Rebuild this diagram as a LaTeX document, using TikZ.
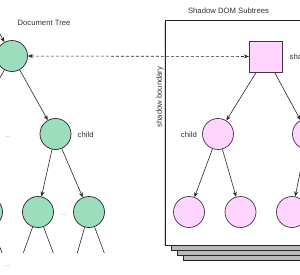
\documentclass[tikz,border=0pt]{standalone}
\usepackage{fontspec}
\setmainfont{Liberation Sans}
\usetikzlibrary{arrows.meta}
\definecolor{greenfill}{RGB}{155,221,189}
\definecolor{pinkfill}{RGB}{255,212,255}
\definecolor{lineclr}{RGB}{40,40,40}
\definecolor{pinkline}{RGB}{70,50,70}
\begin{document}
\begin{tikzpicture}[x=1pt,y=-1pt,
  lbl/.style={font=\fontsize{7.7}{9}\selectfont, text=black!80, inner sep=0pt},
  dots/.style={font=\fontsize{6}{7}\selectfont, text=gray, inner sep=0pt},
  gnode/.style={circle, draw=lineclr, line width=0.7pt, fill=greenfill, minimum size=31pt, inner sep=0pt},
  pnode/.style={circle, draw=pinkline, line width=0.7pt, fill=pinkfill, minimum size=31pt, inner sep=0pt},
  pbox/.style={rectangle, draw=pinkline, line width=0.7pt, fill=pinkfill, minimum width=33.5pt, minimum height=31pt, inner sep=0pt},
  arr/.style={draw=lineclr, line width=0.6pt, -{Stealth[length=5pt,width=4pt]}},
  ln/.style={draw=lineclr, line width=0.6pt},
  page/.style={draw=black!85, line width=0.8pt}]
\useasboundingbox (0,0) rectangle (300,274);
\clip (0,0) rectangle (300,274);

% stacked pages
\foreach \i/\dx/\dy in {4/17.3/15.7, 3/11.3/10, 2/5.3/5} {
  \path[page, top color=gray!15, bottom color=gray!55] (165.7+\dx,20+\dy) rectangle (420,245+\dy);
}
\fill[gray!30] (163.5,22) rectangle (165.7,246);
\path[page, fill=white] (165.7,20) rectangle (420,245);

% titles
\node[lbl] (doctitle) at (44,23) {Document Tree};
\node[lbl] (shtitle) at (228.5,11) {Shadow DOM Subtrees};
\node[lbl, rotate=90] (boundary) at (160,97) {shadow boundary};

% document tree
\coordinate (parentin) at (-10,16);
\node[gnode] (root) at (12,56) {};
\coordinate (leftchild) at (-31,134);
\node[gnode] (child) at (55.5,134) {};
\node[lbl, anchor=west] (childlbl) at (77.5,134.3) {child};
\node[dots] (dotsA) at (8,137) {...};
\node[gnode] (g0) at (-13,212) {};
\node[gnode] (g1) at (38,212) {};
\node[gnode] (g2) at (89,212) {};
\node[dots] (dotsB) at (63,215) {...};
\node[dots] (dotsC) at (7,266) {...};
\coordinate (g0r) at (2,253);
\coordinate (g1l) at (23.3,253);
\coordinate (g1r) at (53.3,253);
\coordinate (g2l) at (77.3,253);
\coordinate (g2r) at (104.3,253);

\draw[arr] (parentin) -- (root);
\draw[ln] (root) -- (leftchild);
\draw[arr] (root) -- (child);
\draw[arr] (child) -- (g1);
\draw[arr] (child) -- (g2);
\draw[ln] (g0) -- (g0r);
\draw[ln] (g1) -- (g1l);
\draw[ln] (g1) -- (g1r);
\draw[ln] (g2) -- (g2l);
\draw[ln] (g2) -- (g2r);

% shadow tree
\node[pbox] (sroot) at (266,56.5) {};
\node[lbl, anchor=west] (srootlbl) at (289.5,56.5) {shadow root};
\node[pnode] (schild) at (218,134) {};
\node[lbl, anchor=east] (schildlbl) at (197,134.8) {child};
\node[pnode] (schild2) at (308,134) {};
\node[pnode] (s1) at (189,212) {};
\node[pnode] (s2) at (240.5,212) {};
\node[pnode] (s3) at (292,212) {};

\draw[arr] (sroot) -- (schild);
\draw[arr] (sroot) -- (schild2);
\draw[arr] (schild) -- (s1);
\draw[arr] (schild) -- (s2);
\draw[arr] (schild2) -- (s3);

% host link
\draw[draw=lineclr, line width=0.6pt, dashed, dash pattern=on 3pt off 2pt, {Stealth[length=5pt,width=4pt]}-{Stealth[length=5pt,width=4pt]}] (root) -- (sroot);
\end{tikzpicture}
\end{document}
